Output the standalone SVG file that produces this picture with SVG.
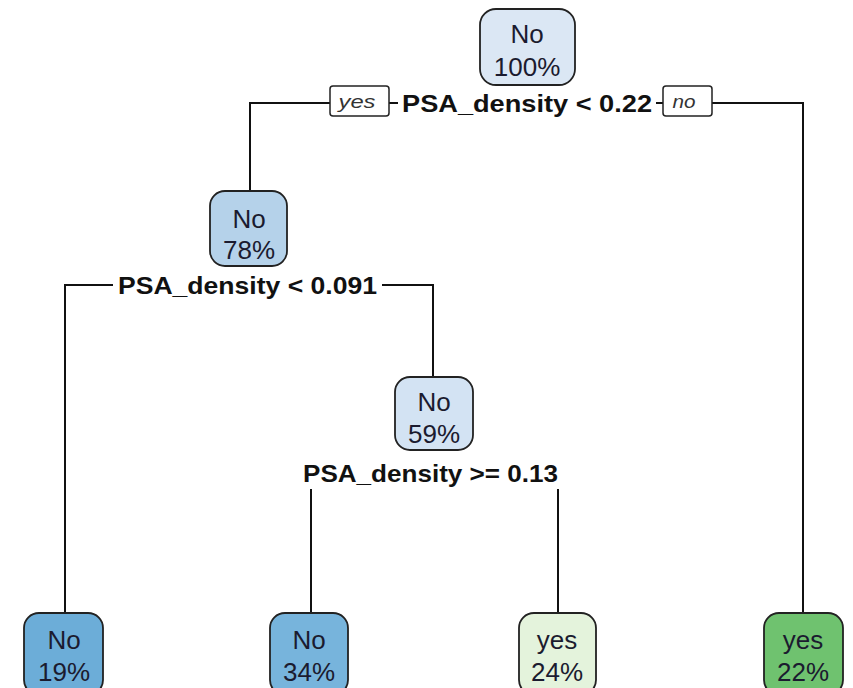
<svg xmlns="http://www.w3.org/2000/svg" width="853" height="688" viewBox="0 0 853 688">
<style>
.conn{fill:none;stroke:#111;stroke-width:2}
.box{stroke:#222;stroke-width:1.8}
.nt{font-family:"Liberation Sans",Arial,sans-serif;font-size:26px;fill:#1b1b2f;text-anchor:middle}
.sl{font-family:"Liberation Sans",Arial,sans-serif;font-size:24px;font-weight:bold;fill:#111}
.yn{font-family:"Liberation Sans",Arial,sans-serif;font-size:19px;font-style:italic;fill:#333;text-anchor:middle}
.bg{fill:#fff}
.lb{fill:#fff;stroke:#222;stroke-width:1.5}
</style>
<rect width="853" height="688" fill="#fff"/>
<g id="connectors">
<path class="conn" d="M250 191 V103 H803 V613"/>
<path class="conn" d="M65 613 V285 H433 V377"/>
<path class="conn" d="M311 613 V472 H558 V613"/>
</g>
<g id="split1">
<rect class="bg" x="398" y="90" width="258" height="28"/>
<text class="sl" x="402" y="112" textLength="250" lengthAdjust="spacingAndGlyphs">PSA_density &lt; 0.22</text>
<rect class="lb" x="330" y="86" width="59" height="30" rx="3"/>
<text class="yn" x="357" y="108" textLength="37" lengthAdjust="spacingAndGlyphs">yes</text>
<rect class="lb" x="663" y="86" width="49" height="30" rx="3"/>
<text class="yn" x="684" y="108" textLength="23" lengthAdjust="spacingAndGlyphs">no</text>
</g>
<g id="split2">
<rect class="bg" x="113" y="272" width="269" height="28"/>
<text class="sl" x="118" y="294" textLength="259" lengthAdjust="spacingAndGlyphs">PSA_density &lt; 0.091</text>
</g>
<g id="split3">
<rect class="bg" x="298" y="458" width="266" height="31"/>
<text class="sl" x="303" y="482" textLength="255" lengthAdjust="spacingAndGlyphs">PSA_density &gt;= 0.13</text>
</g>
<g id="node-root">
<rect class="box" x="480" y="9" width="95" height="76" rx="16" fill="#dbe7f4"/>
<text class="nt" x="527" y="43">No</text>
<text class="nt" x="527" y="76">100%</text>
</g>
<g id="node-78">
<rect class="box" x="210" y="191" width="77" height="75" rx="15" fill="#b5d2ea"/>
<text class="nt" x="249" y="228">No</text>
<text class="nt" x="249" y="259">78%</text>
</g>
<g id="node-59">
<rect class="box" x="395" y="377" width="78" height="73" rx="15" fill="#d3e3f3"/>
<text class="nt" x="434" y="411">No</text>
<text class="nt" x="434" y="443">59%</text>
</g>
<g id="leaf-19">
<rect class="box" x="24" y="613" width="79" height="82" rx="15" fill="#6cadd8"/>
<text class="nt" x="64" y="649">No</text>
<text class="nt" x="64" y="681">19%</text>
</g>
<g id="leaf-34">
<rect class="box" x="270" y="613" width="78" height="82" rx="15" fill="#77b4dc"/>
<text class="nt" x="309" y="649">No</text>
<text class="nt" x="309" y="681">34%</text>
</g>
<g id="leaf-24">
<rect class="box" x="519" y="613" width="77" height="82" rx="15" fill="#e4f3dc"/>
<text class="nt" x="557" y="649">yes</text>
<text class="nt" x="557" y="681">24%</text>
</g>
<g id="leaf-22">
<rect class="box" x="764" y="613" width="79" height="82" rx="15" fill="#6fc26f"/>
<text class="nt" x="803" y="649">yes</text>
<text class="nt" x="803" y="681">22%</text>
</g>
</svg>
